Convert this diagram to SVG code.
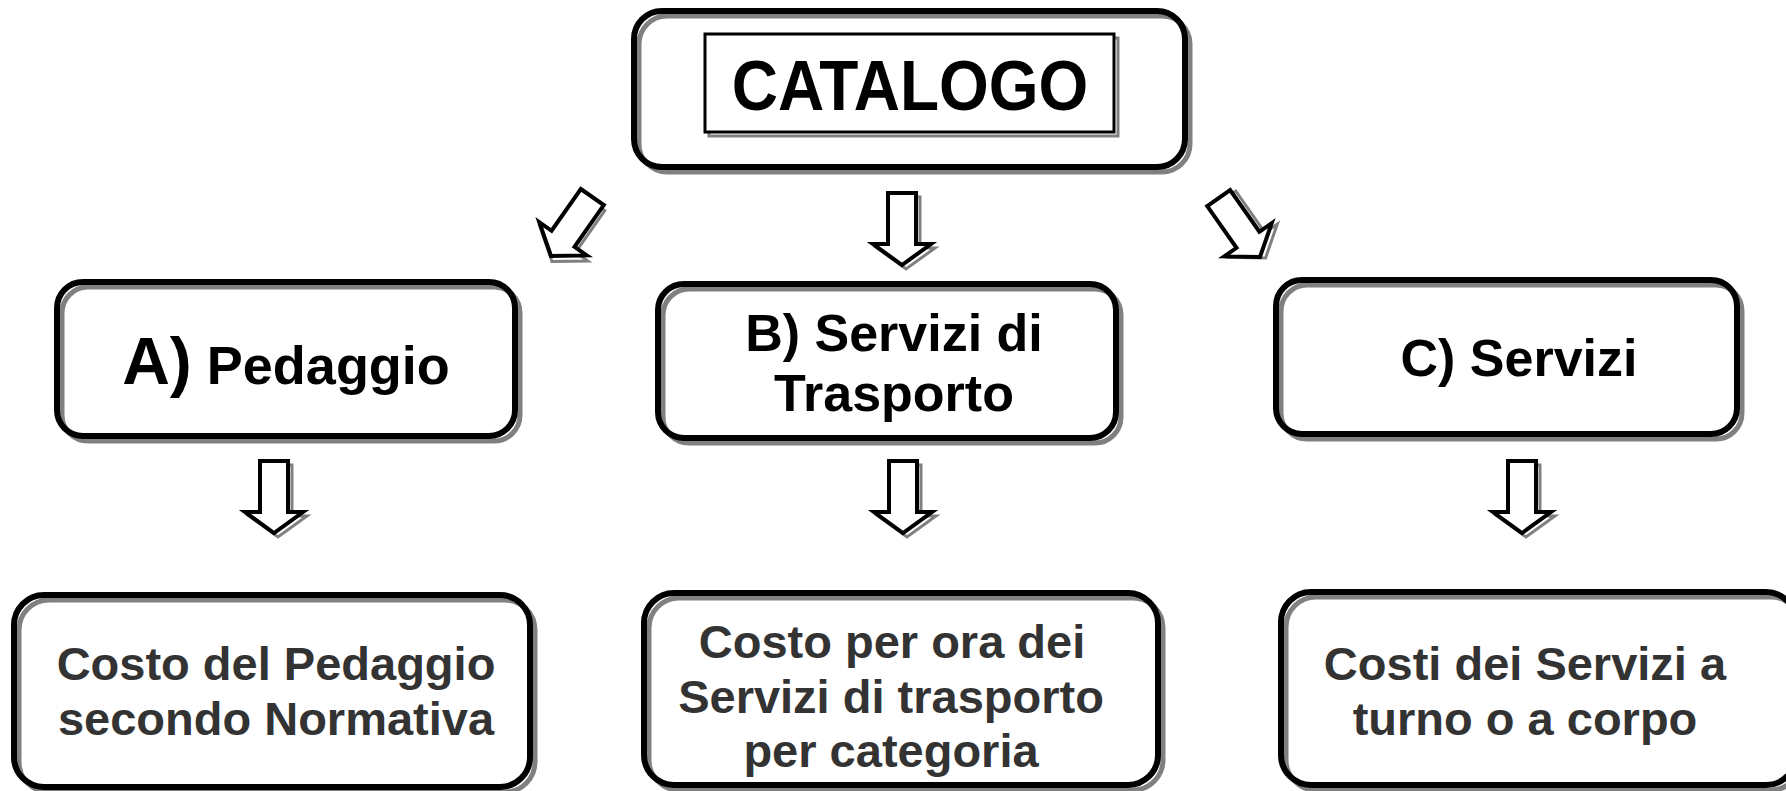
<svg xmlns="http://www.w3.org/2000/svg" xmlns:xlink="http://www.w3.org/1999/xlink" width="1786" height="791" viewBox="0 0 1786 791">
<style>
.bg{fill:#fff;stroke:none}
.sh{fill:none;stroke:#808080;stroke-width:5}
.bd{fill:none;stroke:#000;stroke-width:6}
.t{font-family:"Liberation Sans",Arial,sans-serif;font-weight:bold;text-anchor:middle;fill:#000}
.g{fill:#333}
.arw{fill:#fff;stroke:#000;stroke-width:4;stroke-linejoin:miter}
.arws{fill:none;stroke:#808080;stroke-width:3}
</style>
<defs>
<path id="arrow" d="M-14,-72 L14,-72 L14,-21 L29,-21 L0,0 L-29,-21 L-14,-21 Z"/>
</defs>
<rect width="1786" height="791" fill="#fff"/>
<g id="catalogo">
<rect class="bg" x="634" y="11" width="551" height="156" rx="28"/>
<rect class="sh" x="639" y="16" width="551" height="156" rx="28"/>
<rect class="bd" x="634" y="11" width="551" height="156" rx="28"/>
<rect fill="none" stroke="#808080" stroke-width="3" x="709" y="38" width="409" height="98"/>
<rect fill="#fff" stroke="#000" stroke-width="3" x="705" y="34" width="409" height="98"/>
<text class="t" x="910" y="110" font-size="64" transform="translate(910,110) scale(1,1.1) translate(-910,-110)">CATALOGO</text>
</g>
<g id="a-pedaggio">
<rect class="bg" x="57" y="282" width="458" height="154" rx="26"/>
<rect class="sh" x="62" y="287" width="458" height="154" rx="26"/>
<rect class="bd" x="57" y="282" width="458" height="154" rx="26"/>
<text class="t" x="286" y="384"><tspan font-size="66">A)</tspan><tspan font-size="54"> Pedaggio</tspan></text>
</g>
<g id="b-servizi-trasporto">
<rect class="bg" x="658" y="284" width="458" height="154" rx="26"/>
<rect class="sh" x="663" y="289" width="458" height="154" rx="26"/>
<rect class="bd" x="658" y="284" width="458" height="154" rx="26"/>
<text class="t" x="894" y="351" font-size="52">B) Servizi di</text>
<text class="t" x="894" y="411" font-size="52">Trasporto</text>
</g>
<g id="c-servizi">
<rect class="bg" x="1276" y="280" width="461" height="154" rx="26"/>
<rect class="sh" x="1281" y="285" width="461" height="154" rx="26"/>
<rect class="bd" x="1276" y="280" width="461" height="154" rx="26"/>
<text class="t" x="1519" y="376" font-size="52">C) Servizi</text>
</g>
<g id="costo-pedaggio">
<rect class="bg" x="14" y="595" width="516" height="192" rx="30"/>
<rect class="sh" x="19" y="600" width="516" height="192" rx="30"/>
<rect class="bd" x="14" y="595" width="516" height="192" rx="30"/>
<text class="t g" x="276" y="680" font-size="47">Costo del Pedaggio</text>
<text class="t g" x="276" y="735" font-size="47">secondo Normativa</text>
</g>
<g id="costo-trasporto">
<rect class="bg" x="644" y="593" width="514" height="192" rx="30"/>
<rect class="sh" x="649" y="598" width="514" height="192" rx="30"/>
<rect class="bd" x="644" y="593" width="514" height="192" rx="30"/>
<text class="t g" x="892" y="658" font-size="47">Costo per ora dei</text>
<text class="t g" x="891" y="713" font-size="47">Servizi di trasporto</text>
<text class="t g" x="891" y="767" font-size="47">per categoria</text>
</g>
<g id="costi-servizi">
<rect class="bg" x="1281" y="592" width="515" height="193" rx="30"/>
<rect class="sh" x="1286" y="597" width="515" height="193" rx="30"/>
<rect class="bd" x="1281" y="592" width="515" height="193" rx="30"/>
<text class="t g" x="1525" y="680" font-size="47">Costi dei Servizi a</text>
<text class="t g" x="1525" y="735" font-size="47">turno o a corpo</text>
</g>
<g id="connectors">
<g transform="translate(551,256) rotate(35)"><use xlink:href="#arrow" class="arws" transform="translate(4,4)"/><use xlink:href="#arrow" class="arw"/></g>
<g transform="translate(902,265)"><use xlink:href="#arrow" class="arws" transform="translate(4,4)"/><use xlink:href="#arrow" class="arw"/></g>
<g transform="translate(1260,257) rotate(-35)"><use xlink:href="#arrow" class="arws" transform="translate(4,4)"/><use xlink:href="#arrow" class="arw"/></g>
<g transform="translate(274,533)"><use xlink:href="#arrow" class="arws" transform="translate(4,4)"/><use xlink:href="#arrow" class="arw"/></g>
<g transform="translate(903,533)"><use xlink:href="#arrow" class="arws" transform="translate(4,4)"/><use xlink:href="#arrow" class="arw"/></g>
<g transform="translate(1522,533)"><use xlink:href="#arrow" class="arws" transform="translate(4,4)"/><use xlink:href="#arrow" class="arw"/></g>
</g>
</svg>
